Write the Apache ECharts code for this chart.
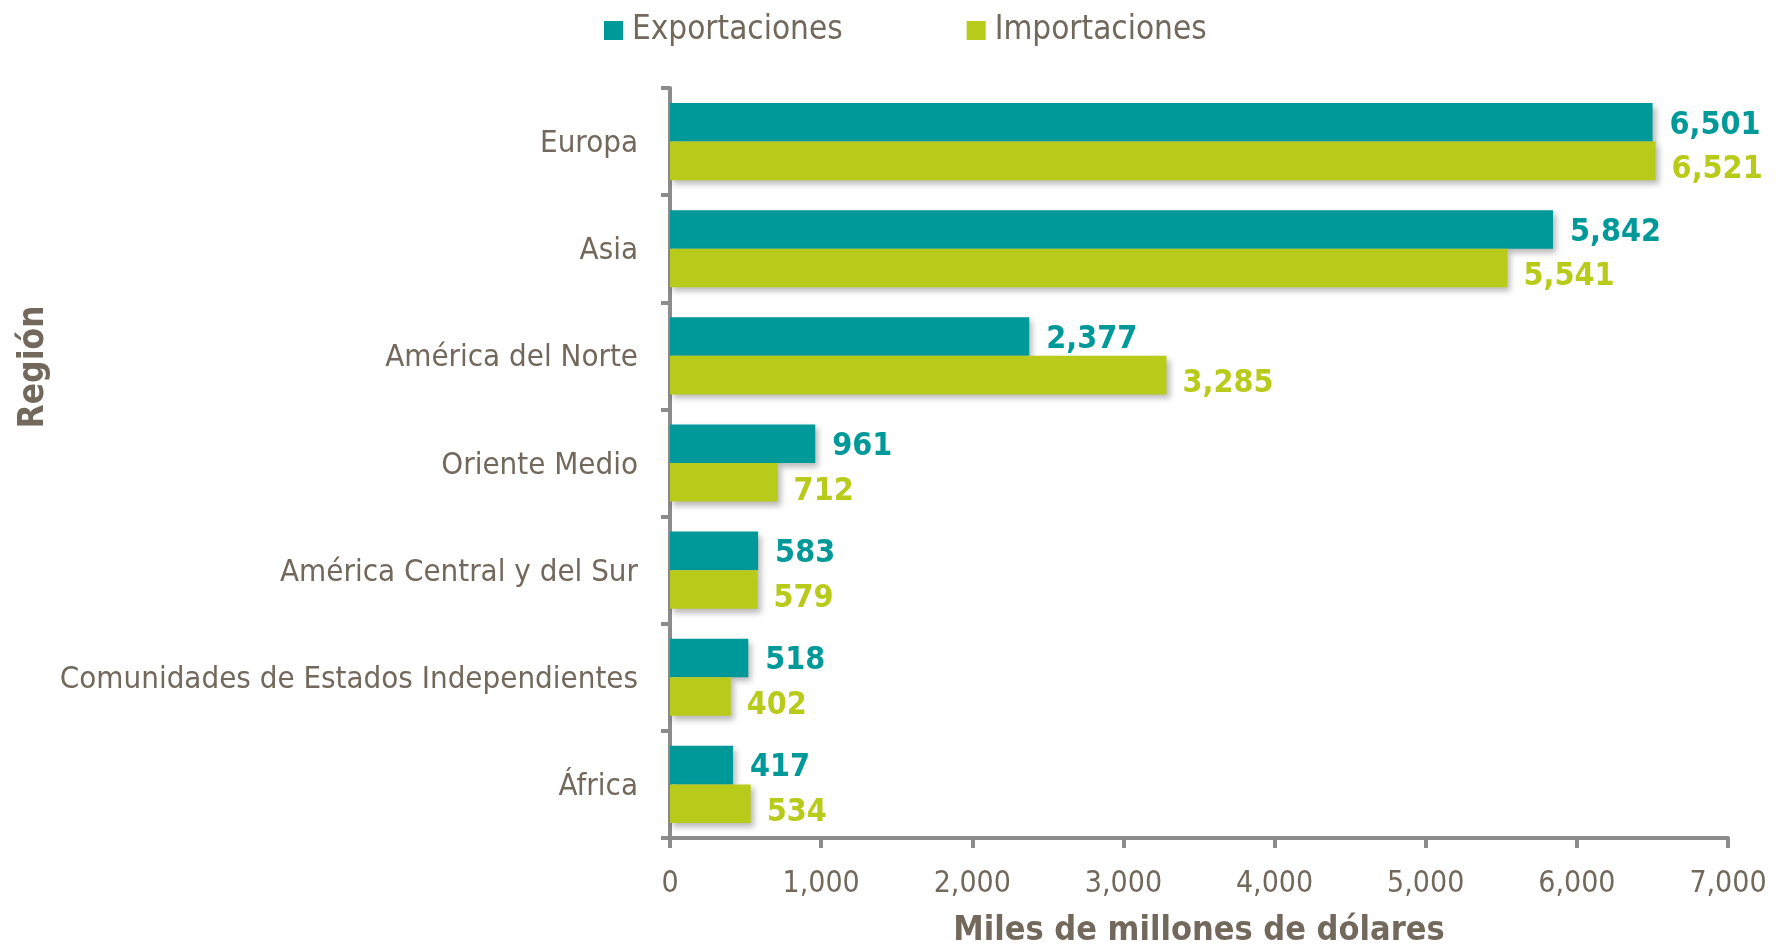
<!DOCTYPE html>
<html>
<head>
<meta charset="utf-8">
<script src="https://cdn.jsdelivr.net/npm/echarts@6/dist/echarts.min.js"></script>
<style>html,body{margin:0;padding:0;background:#fff;}#c{width:1787px;height:951px;}</style>
</head>
<body>
<div id="c"></div>
<script>
const categories = ['Europa', 'Asia', 'América del Norte', 'Oriente Medio', 'América Central y del Sur', 'Comunidades de Estados Independientes', 'África'];
const exportaciones = [6501, 5842, 2377, 961, 583, 518, 417];
const importaciones = [6521, 5541, 3285, 712, 579, 402, 534];
const seriesNames = ['Exportaciones', 'Importaciones'];
const xTitle = 'Miles de millones de dólares';
const yTitle = 'Región';

const FONT = "'DejaVu Sans Condensed', 'DejaVu Sans', sans-serif";
const TEXT = '#72695C';
const TEAL = '#009999';
const LIME = '#B9CB1A';
const AXIS = '#8C8C8C';
const fmt = v => Number(v).toLocaleString('en-US');

const chart = echarts.init(document.getElementById('c'), null, {renderer: 'canvas'});
const barShadow = {shadowColor: 'rgba(0,0,0,0.28)', shadowBlur: 6, shadowOffsetX: 3, shadowOffsetY: 4};
chart.setOption({
  animation: false,
  textStyle: {fontFamily: FONT},
  legend: {
    left: 599, top: 9, padding: [5, 5, 5, 5],
    itemWidth: 19, itemHeight: 19, itemGap: 124,
    icon: 'rect',
    textStyle: {fontFamily: FONT, fontSize: 33, color: TEXT, padding: [0, 0, 0, 4]},
    data: seriesNames
  },
  grid: {left: 670, right: 59, top: 88, bottom: 113, containLabel: false, outerBoundsMode: 'none'},
  xAxis: {
    type: 'value', min: 0, max: 7000, interval: 1000,
    name: xTitle, nameLocation: 'middle', nameGap: 76,
    nameTextStyle: {fontFamily: FONT, fontSize: 34, fontWeight: 'bold', color: TEXT},
    axisLine: {show: true, lineStyle: {color: AXIS, width: 4}},
    axisTick: {show: true, length: 10, lineStyle: {color: AXIS, width: 4}},
    splitLine: {show: false},
    axisLabel: {fontFamily: FONT, fontSize: 30, color: TEXT, margin: 31, formatter: fmt}
  },
  yAxis: {
    type: 'category', inverse: true, data: categories,
    axisLine: {show: true, lineStyle: {color: AXIS, width: 4}},
    axisTick: {show: true, length: 9, lineStyle: {color: AXIS, width: 4}},
    axisLabel: {fontFamily: FONT, fontSize: 31, color: TEXT, margin: 32, verticalAlign: 'top', lineHeight: 5}
  },
  graphic: [{
    type: 'text',
    x: 34, y: 367,
    rotation: Math.PI / 2,
    style: {text: yTitle, font: 'bold 35px ' + FONT, fill: TEXT, align: 'center', verticalAlign: 'middle'}
  }],
  series: [
    {
      name: seriesNames[0], type: 'bar', data: exportaciones,
      barGap: '0%', barCategoryGap: '28%',
      itemStyle: Object.assign({color: TEAL}, barShadow),
      label: {show: true, position: 'right', distance: 17, offset: [0, 3], formatter: p => fmt(p.value),
        fontFamily: FONT, fontSize: 32, fontWeight: 'bold', color: TEAL}
    },
    {
      name: seriesNames[1], type: 'bar', data: importaciones,
      barGap: '0%', barCategoryGap: '28%',
      itemStyle: Object.assign({color: LIME}, barShadow),
      label: {show: true, position: 'right', distance: 16, offset: [0, 9], formatter: p => fmt(p.value),
        fontFamily: FONT, fontSize: 32, fontWeight: 'bold', color: LIME}
    }
  ]
});
</script>
</body>
</html>
